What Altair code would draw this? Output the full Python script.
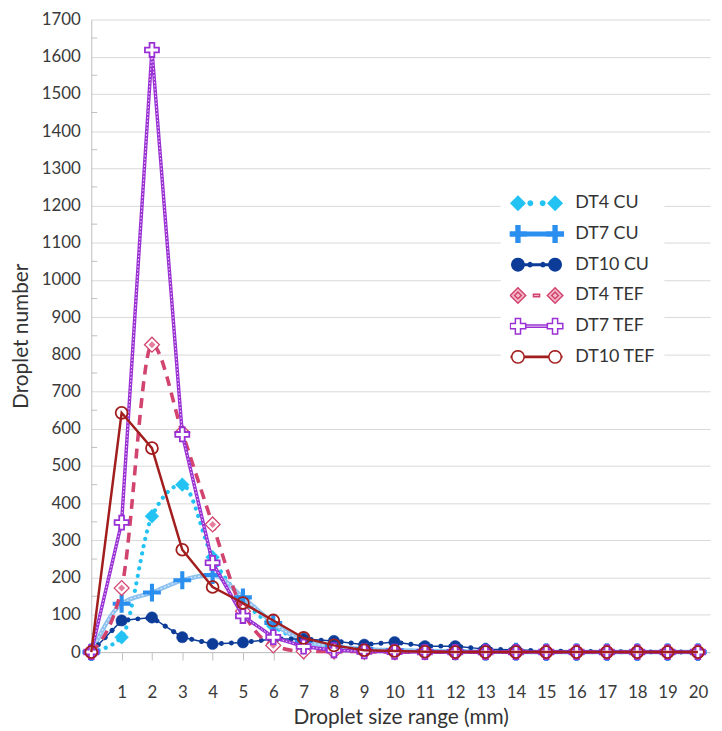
import math
import altair as alt
import pandas as pd

# ---------------- data ----------------
sizes = list(range(0, 21))
series_names = ["DT4 CU", "DT7 CU", "DT10 CU", "DT4 TEF", "DT7 TEF", "DT10 TEF"]
dt4_cu = [0, 40, 365, 450, 255, 140, 70, 30, 15, 8, 5, 3, 2, 1, 0, 0, 0, 0, 0, 0, 0]
dt7_cu = [0, 130, 160, 193, 207, 147, 78, 30, 15, 8, 5, 3, 2, 1, 1, 0, 0, 0, 0, 0, 0]
dt10_cu = [0, 85, 93, 40, 22, 26, 35, 35, 30, 20, 27, 16, 16, 8, 6, 2, 2, 1, 1, 0, 0]
dt4_tef = [0, 172, 826, 590, 343, 110, 18, 2, 2, 1, 0, 0, 0, 0, 0, 0, 0, 0, 0, 0, 0]
dt7_tef = [0, 348, 1618, 585, 240, 97, 40, 15, 5, 2, 1, 0, 0, 0, 0, 0, 0, 0, 0, 0, 0]
dt10_tef = [0, 643, 548, 275, 175, 132, 85, 38, 18, 5, 3, 1, 0, 0, 0, 0, 0, 0, 0, 0, 0]
all_values = [dt4_cu, dt7_cu, dt10_cu, dt4_tef, dt7_tef, dt10_tef]

y_ticks = list(range(0, 1800, 100))
y_minor = list(range(50, 1700, 100))
x_ticks = list(range(1, 21))

rows = []
for name, vals in zip(series_names, all_values):
    for s, v in zip(sizes, vals):
        rows.append({"size": s, "value": v, "series": name})
df = pd.DataFrame(rows)
minor_df = pd.DataFrame({"value": y_minor})

# ---------------- styles ----------------
C_DT4CU = "#22C3F3"
C_DT7CU = "#2B8FEF"
C_DT7CU_LINE = "#8DC1F0"
C_DT10CU = "#0C3C98"
C_DT4TEF = "#D2436E"
C_DT7TEF = "#9A31D4"
C_DT10TEF = "#A21D1D"
FONT = "Lato"


def _pts(points):
    return "M" + "L".join(f"{x:.3f},{y:.3f}" for x, y in points) + "Z"


def diamond_path(cx, r):
    return _pts([(cx - r, 0), (cx, -r), (cx + r, 0), (cx, r)])


def circle_path(cx, r, n=20):
    return _pts([(cx + r * math.cos(2 * math.pi * k / n), r * math.sin(2 * math.pi * k / n)) for k in range(n)])


def plus_path(cx, r, w):
    p = [(-r, -w), (-w, -w), (-w, -r), (w, -r), (w, -w), (r, -w), (r, w), (w, w), (w, r), (-w, r), (-w, w), (-r, w)]
    return _pts([(cx + x, y) for x, y in p])


def bar_path(x0, x1, h):
    return _pts([(x0, -h), (x1, -h), (x1, h), (x0, h)])


m = 0.72
legend_paths = [
    diamond_path(-m, 0.27) + circle_path(-0.24, 0.085) + circle_path(0.24, 0.085) + diamond_path(m, 0.27),
    plus_path(-m, 0.32, 0.075) + bar_path(-m + 0.3, m - 0.3, 0.07) + plus_path(m, 0.32, 0.075),
    circle_path(-m, 0.24) + bar_path(-m, m, 0.03) + circle_path(-0.25, 0.08) + circle_path(0.25, 0.08) + circle_path(m, 0.24),
    diamond_path(-m, 0.3) + diamond_path(-m, 0.13) + bar_path(-0.12, 0.12, 0.05) + diamond_path(m, 0.3) + diamond_path(m, 0.13),
    plus_path(-m, 0.3, 0.1) + bar_path(-m + 0.3, m - 0.3, 0.045) + plus_path(m, 0.3, 0.1),
    circle_path(-m, 0.24) + bar_path(-0.98, -m - 0.24, 0.025) + bar_path(-m + 0.24, m - 0.24, 0.025)
    + bar_path(m + 0.24, 0.98, 0.025) + circle_path(m, 0.24),
]
legend_strokes = [C_DT4CU, C_DT7CU, C_DT10CU, C_DT4TEF, C_DT7TEF, C_DT10TEF]
legend_fills = [C_DT4CU, C_DT7CU, C_DT10CU, "#F3B9C9", "#FFFFFF", "transparent"]

plus_marker = plus_path(0, 1.0, 0.23)
plus_marker_tef = plus_path(0, 1.0, 0.34)

# ---------------- encodings ----------------
xenc = alt.X(
    "size:Q",
    scale=alt.Scale(domain=[0, 20.4], nice=False, zero=False),
    axis=alt.Axis(
        values=x_ticks, title="Droplet size range (mm)", grid=False,
        tickSize=8, tickColor="#BFBFBF", domainColor="#BFBFBF",
        labelPadding=25, labelFont=FONT, labelFontSize=17, labelColor="#3A3A3A",
        titleFont=FONT, titleFontSize=21, titleFontWeight="normal", titleColor="#333333",
        titlePadding=6,
    ),
)
yenc = alt.Y(
    "value:Q",
    scale=alt.Scale(domain=[0, 1700], nice=False),
    axis=alt.Axis(
        values=y_ticks, format="d", title="Droplet number", grid=True, gridColor="#D9D9D9",
        ticks=False, domainColor="#BFBFBF", labelPadding=11,
        labelFont=FONT, labelFontSize=17, labelColor="#3A3A3A",
        titleFont=FONT, titleFontSize=21, titleFontWeight="normal", titleColor="#333333",
        titlePadding=10,
    ),
)

base = alt.Chart(df)


def sel(name):
    return base.transform_filter(alt.datum.series == name)


layers = []

# minor ticks on the y axis
layers.append(
    alt.Chart(minor_df).mark_point(shape="stroke", size=36, xOffset=3, stroke="#BFBFBF", strokeWidth=1, opacity=1)
    .encode(x=alt.value(0), y=yenc)
)

# DT4 CU
layers.append(sel("DT4 CU").mark_line(stroke=C_DT4CU, strokeWidth=4.2, strokeDash=[0.1, 7.5], strokeCap="round",
                                      interpolate="monotone").encode(x=xenc, y=yenc))
layers.append(sel("DT4 CU").mark_point(shape="diamond", size=196, filled=True, fill=C_DT4CU, stroke=C_DT4CU,
                                       strokeWidth=0.5, opacity=1).encode(x=xenc, y=yenc))
# DT7 CU
layers.append(sel("DT7 CU").mark_line(stroke=C_DT7CU_LINE, strokeWidth=4.5, interpolate="monotone").encode(x=xenc, y=yenc))
layers.append(sel("DT7 CU").mark_line(stroke="#DCEBFB", strokeWidth=1.2, strokeDash=[2, 2],
                                      interpolate="monotone").encode(x=xenc, y=yenc))
layers.append(sel("DT7 CU").mark_point(shape=plus_marker, size=324, filled=True, fill=C_DT7CU, strokeWidth=0,
                                       opacity=1).encode(x=xenc, y=yenc))
# DT10 CU
layers.append(sel("DT10 CU").mark_line(stroke=C_DT10CU, strokeWidth=1.5).encode(x=xenc, y=yenc))
layers.append(sel("DT10 CU").mark_line(stroke=C_DT10CU, strokeWidth=5, strokeDash=[0.1, 10],
                                       strokeCap="round").encode(x=xenc, y=yenc))
layers.append(sel("DT10 CU").mark_point(shape="circle", size=130, filled=True, fill=C_DT10CU, stroke=C_DT10CU,
                                        strokeWidth=0.5, opacity=1).encode(x=xenc, y=yenc))
# DT4 TEF
layers.append(sel("DT4 TEF").mark_line(stroke=C_DT4TEF, strokeWidth=3.6, strokeDash=[10, 7],
                                       interpolate="monotone").encode(x=xenc, y=yenc))
layers.append(sel("DT4 TEF").mark_point(shape="diamond", size=225, filled=True, fill="#FFFFFF", stroke=C_DT4TEF,
                                        strokeWidth=1.3, opacity=1).encode(x=xenc, y=yenc))
layers.append(sel("DT4 TEF").mark_point(shape="diamond", size=49, filled=True, fill="#E57E9C",
                                        strokeWidth=0, opacity=1).encode(x=xenc, y=yenc))
# DT7 TEF
layers.append(sel("DT7 TEF").mark_line(stroke=C_DT7TEF, strokeWidth=3.5).encode(x=xenc, y=yenc))
layers.append(sel("DT7 TEF").mark_line(stroke="#F2DDFB", strokeWidth=1, strokeDash=[1.5, 2]).encode(x=xenc, y=yenc))
layers.append(sel("DT7 TEF").mark_point(shape=plus_marker_tef, size=200, filled=True, fill="#FFFFFF", stroke=C_DT7TEF,
                                        strokeWidth=1.8, opacity=1).encode(x=xenc, y=yenc))
# DT10 TEF
layers.append(sel("DT10 TEF").mark_line(stroke=C_DT10TEF, strokeWidth=2.5).encode(x=xenc, y=yenc))
layers.append(sel("DT10 TEF").mark_point(shape="circle", size=144, filled=False, stroke=C_DT10TEF,
                                         strokeWidth=1.8, opacity=1).encode(x=xenc, y=yenc))

# legend (invisible layer that only drives the legend)
leg = alt.Legend(
    title=None, orient="none", legendX=413, legendY=162,
    symbolSize=2704, symbolStrokeWidth=1.5, symbolOpacity=1, clipHeight=28.6, rowPadding=2,
    labelFont=FONT, labelFontSize=18, labelColor="#333333", labelOffset=12,
    padding=9, fillColor="#FFFFFF",
)
layers.append(
    base.mark_point(size=2704, filled=False).encode(
        x=xenc, y=yenc,
        shape=alt.Shape("series:N", scale=alt.Scale(domain=series_names, range=legend_paths), legend=leg),
        stroke=alt.Stroke("series:N", scale=alt.Scale(domain=series_names, range=legend_strokes), legend=leg),
        fill=alt.Fill("series:N", scale=alt.Scale(domain=series_names, range=legend_fills), legend=leg),
        opacity=alt.value(0),
    )
)

chart = (
    alt.layer(*layers)
    .properties(
        width=624, height=638,
        autosize=alt.AutoSizeParams(type="none"),
        padding={"left": 84, "top": 8.5, "right": 4, "bottom": 76},
        background="#FFFFFF",
    )
    .configure_view(stroke="transparent")
)

chart.save("out.html", embed_options={"renderer": "svg", "actions": False})
